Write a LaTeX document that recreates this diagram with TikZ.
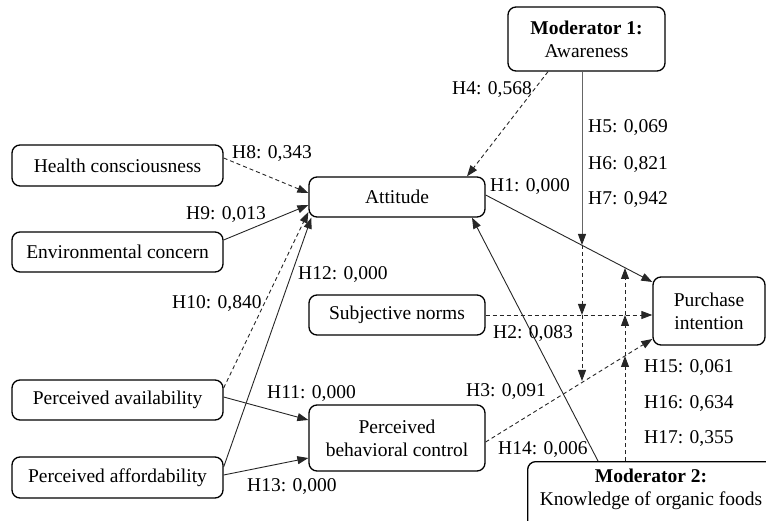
\documentclass[tikz,border=0pt]{standalone}
\usepackage{fontspec}
\setmainfont{Liberation Serif}
\usetikzlibrary{arrows.meta}
\begin{document}
\begin{tikzpicture}[x=1pt,y=-1pt,
  box/.style={draw, line width=1.3pt, rounded corners=8pt, inner sep=0pt, align=center, font=\fontsize{19.5}{23}\selectfont},
  lab/.style={anchor=west, inner sep=0pt, yshift=-1.5pt, font=\fontsize{19.5}{23}\selectfont},
  txt/.style={inner sep=0pt, align=center, font=\fontsize{19.5}{23}\selectfont},
  conn/.style={line width=0.9pt, draw=black!85, -{Triangle[length=11pt,width=8pt]}},
  dsh/.style={conn, dash pattern=on 4pt off 3pt},
]
\useasboundingbox (0,0) rectangle (766,521);
% nodes
\node[box, minimum width=157, minimum height=64] (mod1) at (586.5,39) {\textbf{Moderator 1:}\\Awareness};
\node[box, minimum width=211, minimum height=41] (hc) at (117.5,165.5) {Health consciousness};
\node[box, minimum width=211, minimum height=40] (ec) at (117.5,252) {Environmental concern};
\node[box, minimum width=211, minimum height=40] (pav) at (117.5,400) {Perceived availability};
\node[box, minimum width=211, minimum height=41] (paf) at (117.5,477.5) {Perceived affordability};
\node[box, minimum width=176, minimum height=40] (att) at (397,197) {Attitude};
\node[box, minimum width=176, minimum height=40] (sn) at (397,315) {Subjective norms};
\node[box, minimum width=176, minimum height=66] (pbc) at (397,438) {Perceived\\behavioral control};
\node[box, minimum width=112, minimum height=68] (pi) at (709,311) {Purchase\\intention};
\node[box, minimum width=260, minimum height=90, anchor=north west] (mod2) at (527,461) {};
\node[txt] (mod2t) at (651,489) {\textbf{Moderator 2:}\\Knowledge of organic foods};
% helper coordinates on paths
\coordinate (m1a) at (582,245);
\coordinate (m1b) at (582,315);
\coordinate (m1c) at (582,381);
\coordinate (m2a) at (625,356);
\coordinate (m2b) at (625,315);
\coordinate (m2c) at (625,268);
% connectors to Attitude
\draw[dsh] ([yshift=7.5pt]hc.east) -- ([yshift=4pt]att.west);
\draw[conn] ([yshift=12pt]ec.east) -- ([yshift=-8pt]att.west);
\draw[dsh] ([yshift=12pt]pav.east) -- ([yshift=-15pt]att.west);
\draw[conn] ([yshift=10.5pt]paf.east) -- ([xshift=3pt]att.south west);
\draw[dsh] ([xshift=-38.5pt]mod1.south) -- ([xshift=70pt]att.north);
\draw[conn] ([xshift=71pt]mod2.north west) -- ([xshift=75pt]att.south);
% connectors to PBC
\draw[conn] ([yshift=3pt]pav.east) -- ([yshift=18pt]pbc.west);
\draw[conn] ([yshift=2.5pt]paf.east) -- ([yshift=-20pt]pbc.west);
% connectors to Purchase intention
\draw[conn] ([yshift=2pt]att.east) -- ([yshift=29pt]pi.west);
\draw[dsh] (sn.east) -- ([yshift=-4pt]pi.west);
\draw[dsh] ([yshift=-4pt]pbc.east) -- ([yshift=-28pt]pi.west);
% moderator 1
\draw[line width=0.9pt, draw=black!60, -{Triangle[length=11pt,width=8pt,color=black!85,fill=black!85]}] ([xshift=-4.5pt]mod1.south) -- (m1a);
\draw[dsh] (m1a) -- (m1b);
\draw[dsh] (m1b) -- (m1c);
% moderator 2
\draw[dsh] ([xshift=98pt]mod2.north west) -- (m2a);
\draw[dsh] (m2a) -- (m2b);
\draw[dsh] (m2b) -- (m2c);
% labels
\node[lab] (l4) at (452,88) {H4: 0,568};
\node[lab] (l5) at (588,126) {H5: 0,069};
\node[lab] (l6) at (588,163) {H6: 0,821};
\node[lab] (l7) at (588,198) {H7: 0,942};
\node[lab] (l1) at (490,185) {H1: 0,000};
\node[lab] (l8) at (232,152) {H8: 0,343};
\node[lab] (l9) at (186,213) {H9: 0,013};
\node[lab] (l10) at (172,302) {H10: 0,840};
\node[lab] (l12) at (298,273) {H12: 0,000};
\node[lab] (l11) at (267,392) {H11: 0,000};
\node[lab] (l13) at (247,485) {H13: 0,000};
\node[lab] (l2) at (493,332) {H2: 0,083};
\node[lab] (l3) at (466,390) {H3: 0,091};
\node[lab] (l14) at (498,448) {H14: 0,006};
\node[lab] (l15) at (644,366) {H15: 0,061};
\node[lab] (l16) at (644,402) {H16: 0,634};
\node[lab] (l17) at (644,437) {H17: 0,355};
\end{tikzpicture}
\end{document}
